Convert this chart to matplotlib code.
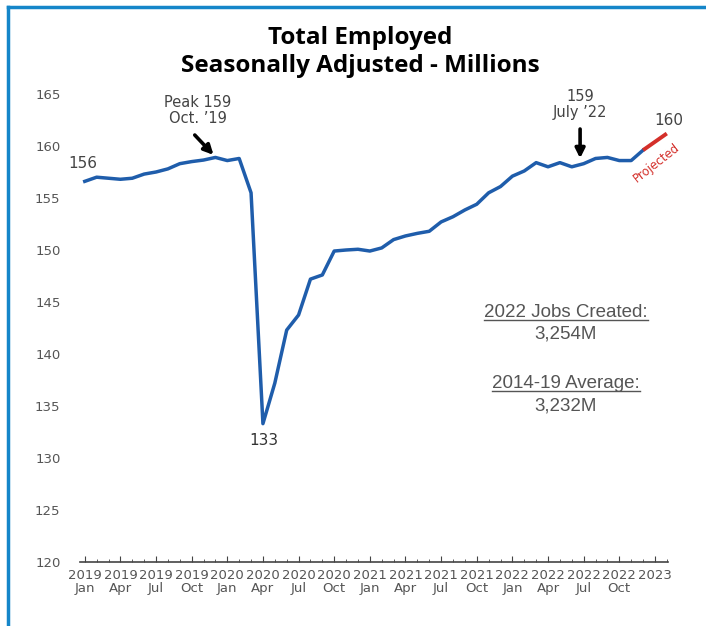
import numpy as np
import matplotlib.pyplot as plt

# Total employed, millions, Jan 2019 .. Dec 2022
employed = [156.6, 157.0, 156.9, 156.8, 156.9, 157.3, 157.5, 157.8, 158.3, 158.5, 158.65, 158.9,  # 2019
            158.6, 158.8, 155.5, 133.3, 137.2, 142.3, 143.75, 147.2, 147.6, 149.9, 150.0, 150.07,  # 2020
            149.9, 150.2, 151.0, 151.35, 151.6, 151.8, 152.7, 153.2, 153.85, 154.4, 155.5, 156.1,  # 2021
            157.1, 157.6, 158.4, 158.0, 158.4, 158.0, 158.3, 158.8, 158.9, 158.6, 158.6, 159.6]   # 2022
# projection Dec 2022 .. Feb 2023
projected = [159.6, 160.4, 161.2]

years = ['2019', '2019', '2019', '2019', '2020', '2020', '2020', '2020', '2021', '2021', '2021', '2021',
         '2022', '2022', '2022', '2022', '2023']
months = ['Jan', 'Apr', 'Jul', 'Oct'] * 4 + ['']
tick_labels = [f'{y}\n{m}' for y, m in zip(years, months)]

blue = '#1f5dab'
red = '#d42f2a'
gray = '#555555'
plt.rcParams['font.family'] = ['DejaVu Sans']

fig = plt.figure(figsize=(7.06, 6.26), dpi=100)
ax = fig.add_axes([80 / 706, 64 / 626, 588 / 706, 468 / 626])

x = np.arange(len(employed))
xp = np.arange(len(employed) - 1, len(employed) - 1 + len(projected))
ax.plot(x, employed, color=blue, lw=2.5, solid_joinstyle='round')
ax.plot(xp, projected, color=red, lw=2.8, solid_capstyle='butt')

ax.set_xlim(-0.4, 49.1)
ax.set_ylim(120, 165)
ax.set_yticks(range(120, 166, 5))
ax.set_xticks(range(0, 49, 3))
ax.set_xticklabels(tick_labels, linespacing=1.05)
ax.set_xticks(range(0, 50), minor=True)

for s in ['top', 'right', 'left']:
    ax.spines[s].set_visible(False)
ax.spines['bottom'].set_color('#444444')
ax.spines['bottom'].set_linewidth(1.2)
ax.tick_params(axis='y', length=0, pad=14, labelsize=9.5, labelcolor=gray)
ax.tick_params(axis='x', which='major', direction='in', length=4, width=0.8,
               color='#444444', pad=5, labelsize=9.5, labelcolor=gray)
ax.tick_params(axis='x', which='minor', direction='in', length=2, width=0.6, color='#444444')

# annotations
ax.text(-0.2, 157.6, '156', fontsize=11, color='#444444', ha='center', va='bottom')
ax.text(9.5, 161.9, 'Peak 159\nOct. \u201919', fontsize=10.5, color='#444444', ha='center',
        va='bottom', linespacing=1.1)
ax.annotate('', xy=(11, 158.95), xytext=(9.1, 161.25),
            arrowprops=dict(arrowstyle='-|>', color='black', lw=2.6, mutation_scale=14))
ax.text(15.1, 132.4, '133', fontsize=11, color='#333333', ha='center', va='top')
ax.text(41.7, 162.5, '159\nJuly \u201922', fontsize=10.5, color='#444444', ha='center',
        va='bottom', linespacing=1.1)
ax.annotate('', xy=(41.7, 158.55), xytext=(41.7, 161.9),
            arrowprops=dict(arrowstyle='-|>', color='black', lw=2.6, mutation_scale=14))
ax.text(49.2, 161.7, '160', fontsize=11, color='#444444', ha='center', va='bottom')
ax.text(48.1, 158.4, 'Projected', fontsize=8.5, color=red, ha='center', va='center', rotation=38)

stats = [(144.0, '2022 Jobs Created:', True), (141.9, '3,254M', False),
         (137.2, '2014-19 Average:', True), (135.0, '3,232M', False)]
labels = []
for yv, s, ul in stats:
    t = ax.text(40.5, yv, s, fontsize=13.5, color=gray, ha='center', va='center',
                family=['Liberation Sans', 'DejaVu Sans'])
    if ul:
        labels.append(t)

# title
for yy, s in [(38, 'Total Employed'), (66, 'Seasonally Adjusted - Millions')]:
    fig.text(360 / 706, 1 - yy / 626, s, fontsize=17.5, fontweight='bold',
             ha='center', va='center', family=['Open Sans', 'DejaVu Sans'])

# blue frame (top and left)
frame = '#1586c9'
fig.add_artist(plt.Line2D([7.5 / 706, 7.5 / 706], [0, 1 - 6.5 / 626], color=frame, lw=2.5,
                          transform=fig.transFigure, solid_capstyle='projecting'))
fig.add_artist(plt.Line2D([7.5 / 706, 1], [1 - 6.5 / 626, 1 - 6.5 / 626], color=frame, lw=2.5,
                          transform=fig.transFigure, solid_capstyle='projecting'))

# underline the stat headers
fig.canvas.draw()
r = fig.canvas.get_renderer()
for t in labels:
    bb = t.get_window_extent(r)
    yb = bb.y0 + 1
    fig.add_artist(plt.Line2D([bb.x0 / 706, bb.x1 / 706], [yb / 626, yb / 626],
                              color=gray, lw=1, transform=fig.transFigure))

fig.savefig('out.png', dpi=100)
